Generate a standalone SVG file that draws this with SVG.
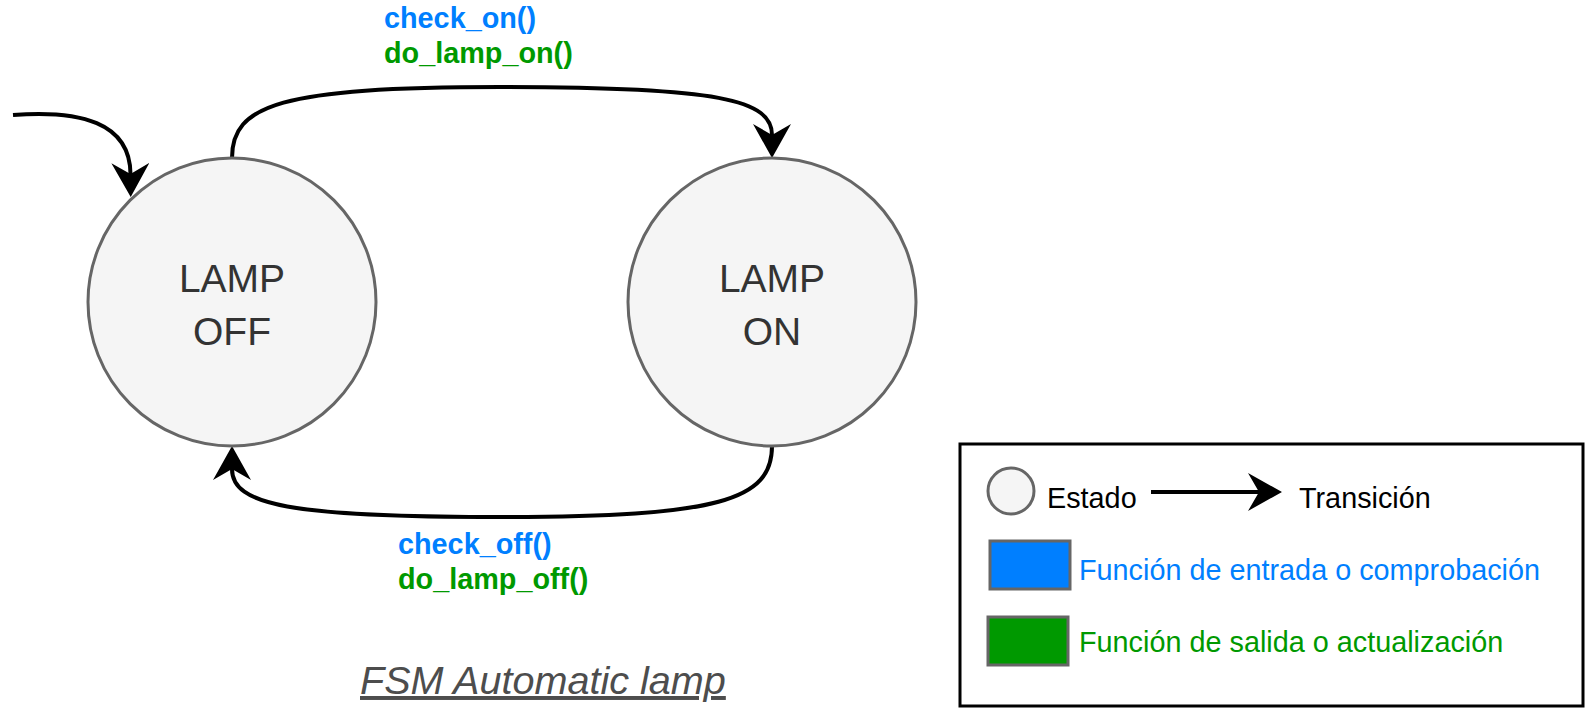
<svg xmlns="http://www.w3.org/2000/svg" width="1589" height="713" viewBox="0 0 1589 713">
<defs>
<style>
.state{fill:#f5f5f5;stroke:#666666;stroke-width:3}
.stext{font-family:"Liberation Sans",Arial,sans-serif;font-size:39px;fill:#333333;text-anchor:middle}
.edge{fill:none;stroke:#000000;stroke-width:4}
.lbl{font-family:"Liberation Sans",Arial,sans-serif;font-size:28.8px;font-weight:bold}
.blue{fill:#007FFF}
.green{fill:#009900}
.leg{font-family:"Liberation Sans",Arial,sans-serif;font-size:28.8px}
</style>
<marker id="arr" markerUnits="userSpaceOnUse" viewBox="0 0 34 38" markerWidth="34" markerHeight="38" refX="11" refY="19" orient="auto">
<path d="M0,0 L34,19 L0,38 L11,19 Z" fill="#000000"/>
</marker>
</defs>
<g id="connectors">
<path class="edge" d="M13,115 C80,110 130,122 130.5,174" marker-end="url(#arr)"/>
<path class="edge" d="M232,158 C232,105 280,87 500,87 C720,87 772,100 772,135" marker-end="url(#arr)"/>
<path class="edge" d="M772,446 C772,500 720,517 500,517 C290,517 232,505 232,469" marker-end="url(#arr)"/>
</g>
<g id="label-on">
<text class="lbl blue" x="384" y="28">check_on()</text>
<text class="lbl green" x="384" y="63">do_lamp_on()</text>
</g>
<g id="label-off">
<text class="lbl blue" x="398" y="554">check_off()</text>
<text class="lbl green" x="398" y="589">do_lamp_off()</text>
</g>
<g id="lamp-off">
<circle class="state" cx="232" cy="302" r="144"/>
<text class="stext" x="232" y="292">LAMP</text>
<text class="stext" x="232" y="345">OFF</text>
</g>
<g id="lamp-on">
<circle class="state" cx="772" cy="302" r="144"/>
<text class="stext" x="772" y="292">LAMP</text>
<text class="stext" x="772" y="345">ON</text>
</g>
<g id="title">
<text x="360" y="694" font-family="'Liberation Sans',Arial,sans-serif" font-size="39.6px" font-style="italic" fill="#4d4d4d" text-decoration="underline">FSM Automatic lamp</text>
</g>
<g id="legend">
<rect x="960" y="444" width="623" height="262" fill="#ffffff" stroke="#000000" stroke-width="3"/>
<circle cx="1011" cy="491" r="23" fill="#f5f5f5" stroke="#666666" stroke-width="3"/>
<text class="leg" x="1047" y="508" fill="#000000">Estado</text>
<path class="edge" d="M1151,492 L1259,492" marker-end="url(#arr)"/>
<text class="leg" x="1299" y="508" fill="#000000">Transición</text>
<rect x="990" y="541" width="80" height="48" fill="#007FFF" stroke="#666666" stroke-width="3"/>
<text class="leg blue" x="1079" y="580">Función de entrada o comprobación</text>
<rect x="988" y="617" width="80" height="48" fill="#009900" stroke="#666666" stroke-width="3"/>
<text class="leg green" x="1079" y="652">Función de salida o actualización</text>
</g>
</svg>
